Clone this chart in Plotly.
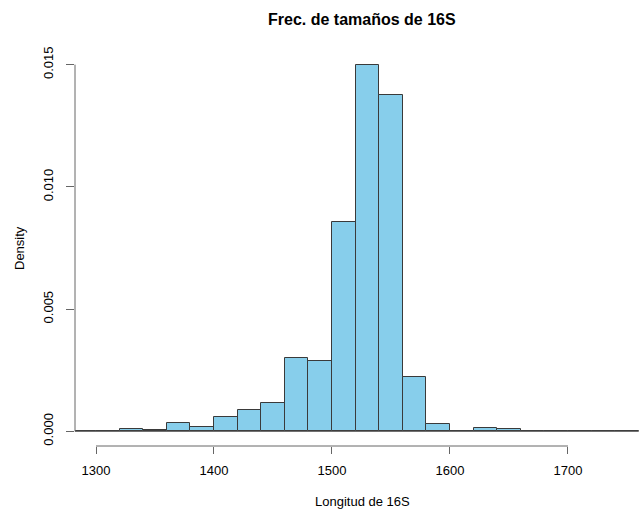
import plotly.graph_objects as go

# Histogram data (bins of width 20, density values)
bin_starts = [1280, 1300, 1320, 1340, 1360, 1380, 1400, 1420, 1440, 1460, 1480, 1500,
              1520, 1540, 1560, 1580, 1600, 1620, 1640, 1660, 1680, 1700, 1720, 1740]
densities = [0.00002, 0.0, 0.00010, 0.00007, 0.00033, 0.00019, 0.00057, 0.00088, 0.00114,
             0.00302, 0.00286, 0.00857, 0.01500, 0.01376, 0.00222, 0.00029, 0.00002,
             0.00013, 0.00010, 0.0, 0.0, 0.0, 0.00002, 0.0]
bin_width = 20
x_ticks = [1300, 1400, 1500, 1600, 1700]
y_ticks = [0.0, 0.005, 0.010, 0.015]
y_tick_text = ["0.000", "0.005", "0.010", "0.015"]

centers = [b + bin_width / 2 for b in bin_starts]

fig = go.Figure()
fig.add_trace(go.Bar(
    x=centers, y=densities, width=bin_width,
    marker=dict(color="#87CEEB", line=dict(color="#3a3a3a", width=1)),
    hoverinfo="x+y",
))

axis_col = "#666666"
font = "Liberation Sans, Arial, Helvetica, sans-serif"

shapes = [
    # baseline for zero-height bins
    dict(type="line", xref="x", yref="y", x0=bin_starts[0], x1=bin_starts[-1] + bin_width,
         y0=0, y1=0, line=dict(color="#555555", width=1)),
    # R-style x axis line (first to last tick)
    dict(type="line", xref="x", yref="paper", x0=x_ticks[0], x1=x_ticks[-1], y0=0, y1=0,
         line=dict(color=axis_col, width=1)),
    # R-style y axis line
    dict(type="line", xref="paper", yref="y", x0=0, x1=0, y0=y_ticks[0], y1=y_ticks[-1],
         line=dict(color=axis_col, width=1)),
]

fig.update_layout(
    width=639, height=510,
    margin=dict(l=75, r=0, t=50, b=64),
    paper_bgcolor="white", plot_bgcolor="white",
    showlegend=False,
    bargap=0,
    font=dict(family=font, size=13, color="black"),
    shapes=shapes,
    xaxis=dict(range=[1282.2, 1760.2], tickvals=x_ticks, ticks="outside", ticklen=7,
               tickcolor=axis_col, showline=False, showgrid=False, zeroline=False,
               tickfont=dict(size=13, family=font), ticklabelstandoff=5),
    yaxis=dict(range=[-0.0006, 0.0156], tickvals=y_ticks, ticktext=y_tick_text,
               ticks="outside", ticklen=8, tickcolor=axis_col, tickangle=-90,
               showline=False, showgrid=False, zeroline=False,
               tickfont=dict(size=13, family=font), ticklabelstandoff=8),
    annotations=[
        dict(text="<b>Frec. de tamaños de 16S</b>", xref="paper", yref="paper",
             x=(362 - 75) / 564, y=1, yshift=31, showarrow=False,
             font=dict(size=16, family=font), xanchor="center", yanchor="middle"),
        dict(text="Longitud de 16S", xref="paper", yref="paper",
             x=(362 - 75) / 564, y=0, yshift=-55, showarrow=False,
             font=dict(size=13, family=font), xanchor="center", yanchor="middle"),
        dict(text="Density", xref="paper", yref="paper", x=0, xshift=-56, y=0.5,
             textangle=-90, showarrow=False, font=dict(size=13, family=font),
             xanchor="center", yanchor="middle"),
    ],
)

fig.write_html(
    "out.html",
    config={"displayModeBar": False},
    post_script="document.body.style.margin='0';document.body.style.overflow='hidden';",
)
